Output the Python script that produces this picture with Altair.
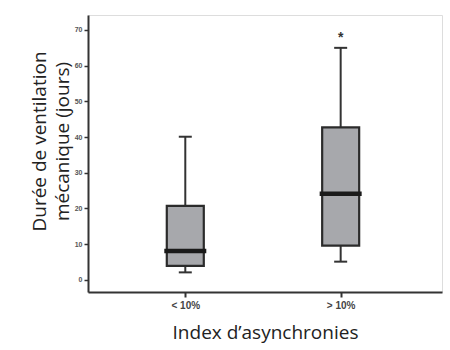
import altair as alt
import pandas as pd

groups = ["< 10%", "> 10%"]
group_pos = [1, 2]
w_min = [2.1, 5.1]
q1 = [3.9, 9.6]
median = [8.1, 24.1]
q3 = [20.7, 42.7]
w_max = [40.1, 65.0]
outlier_group = [2]
outlier_value = [69]
y_ticks = [0, 10, 20, 30, 40, 50, 60, 70]

df = pd.DataFrame({"group": groups, "pos": group_pos, "wmin": w_min, "q1": q1,
                   "median": median, "q3": q3, "wmax": w_max})
df_out = pd.DataFrame({"pos": outlier_group, "value": outlier_value, "sym": ["*"]})

label_expr = "datum.value == 1 ? '< 10%' : (datum.value == 2 ? '> 10%' : '')"

x_scale = alt.Scale(domain=[0.406, 2.62], nice=False, zero=False)
x_axis = alt.Axis(values=group_pos, labelExpr=label_expr, title="Index d\u2019asynchronies",
                  grid=False, domain=True, domainColor="#333", domainWidth=2,
                  tickColor="#333", tickWidth=2, tickSize=5,
                  labelFont="Liberation Sans", labelFontSize=10, labelFontWeight="bold",
                  labelColor="#444", labelPadding=3,
                  titleFont="Open Sans", titleFontSize=19, titleFontWeight="normal",
                  titleColor="#222", titlePadding=13)

y_scale = alt.Scale(domain=[-3.4, 74.2], nice=False, zero=False)
y_axis = alt.Axis(values=y_ticks, tickCount=8, grid=False, domain=True, domainColor="#333", domainWidth=2,
                  tickColor="#333", tickWidth=1.5, tickSize=4, labelOverlap=False,
                  labelFont="Liberation Sans", labelFontSize=7, labelFontWeight="bold",
                  labelColor="#555", labelPadding=2,
                  title=["Durée de ventilation", "mécanique (jours)"],
                  titleFont="Open Sans", titleFontSize=19, titleFontWeight="normal",
                  titleColor="#222", titleX=-39, titleY=126, titleLineHeight=23)


def X():
    return alt.X("pos:Q", scale=x_scale, axis=x_axis)


def Y(field):
    return alt.Y(field, type="quantitative", scale=y_scale, axis=y_axis)


base = alt.Chart(df)

whisk_hi = base.mark_rule(color="#333", strokeWidth=2).encode(
    x=X(), y=Y("q3"), y2="wmax:Q")
whisk_lo = base.mark_rule(color="#333", strokeWidth=2).encode(
    x=X(), y=Y("wmin"), y2="q1:Q")
cap_hi = base.mark_tick(orient="horizontal", size=13, thickness=2, color="#333", opacity=1).encode(
    x=X(), y=Y("wmax"))
cap_lo = base.mark_tick(orient="horizontal", size=13, thickness=2, color="#333", opacity=1).encode(
    x=X(), y=Y("wmin"))
box = base.mark_bar(size=37, color="#a7a8ac", stroke="#2b2b2b", strokeWidth=2.2).encode(
    x=X(), y=Y("q1"), y2="q3:Q")
med = base.mark_tick(orient="horizontal", size=42, thickness=4.5, color="#1a1a1a", opacity=1).encode(
    x=X(), y=Y("median"))
outl = alt.Chart(df_out).mark_text(text="*", fontSize=14, fontWeight="bold", color="#333",
                                    font="Liberation Sans", baseline="middle", dy=4).encode(
    x=X(), y=Y("value"))

chart = alt.layer(whisk_hi, whisk_lo, cap_hi, cap_lo, box, med, outl).properties(
    width=354, height=277,
    autosize=alt.AutoSizeParams(type="none"),
    padding={"left": 88, "top": 15, "right": 8, "bottom": 58},
).configure_view(stroke="#555", strokeWidth=1.5).configure(background="white")

chart.save("out.html", embed_options={"renderer": "svg", "actions": False})
